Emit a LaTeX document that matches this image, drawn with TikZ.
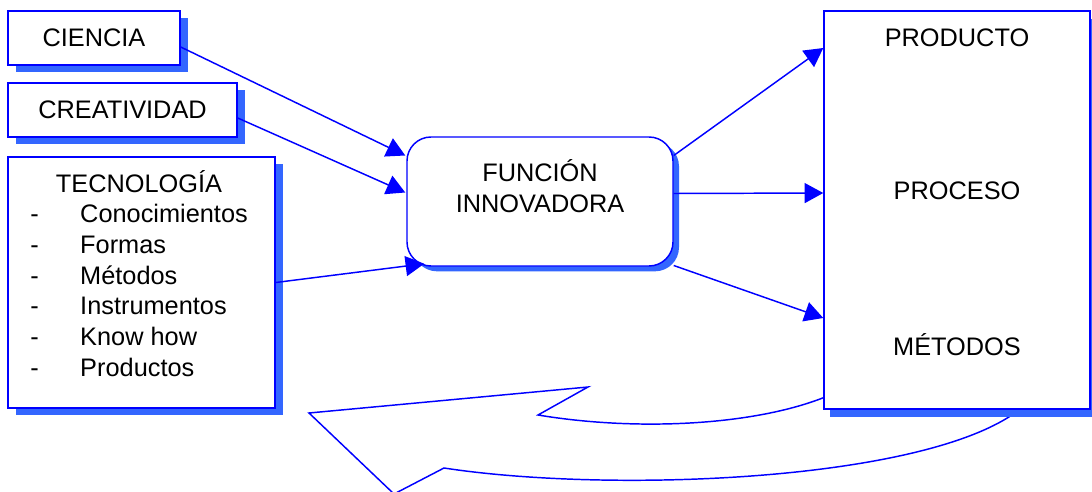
\documentclass[tikz,border=0pt]{standalone}
\usepackage{fontspec}
\setmainfont{Liberation Sans}
\usetikzlibrary{arrows.meta,shadows,calc}
\definecolor{boxblue}{RGB}{0,0,255}
\definecolor{shadeblue}{RGB}{51,102,255}

\begin{document}
\begin{tikzpicture}[x=0.75pt,y=-0.75pt,
 inbox/.style={draw=boxblue,line width=1.1pt,rectangle,fill=white,inner sep=0pt,
   drop shadow={shadow xshift=6pt,shadow yshift=-5.25pt,fill=shadeblue,opacity=1}},
 fnbox/.style={draw=boxblue,line width=1.1pt,rectangle,rounded corners=18pt,fill=white,
   minimum width=199.5pt,minimum height=96.75pt,
   drop shadow={shadow xshift=4.5pt,shadow yshift=-4pt,fill=shadeblue,opacity=1}},
 outbox/.style={draw=boxblue,line width=1.1pt,rectangle,fill=white,
   minimum width=199.5pt,minimum height=298.5pt,
   drop shadow={shadow xshift=4.5pt,shadow yshift=-6pt,fill=shadeblue,opacity=1}},
 flow/.style={-{Triangle[length=14pt,width=15pt]},boxblue,line width=1.1pt},
 every node/.style={font=\fontsize{19}{23}\selectfont},label/.style={inner sep=0pt,anchor=base}]
\useasboundingbox (0,0) rectangle (1092,492);
% return arrow
\draw[boxblue,line width=1.1pt,line join=miter]
  (830,395) .. controls (760,425) and (640,432) .. (538,415) -- (588,387) -- (309,413)
  -- (394,494) -- (444,468) .. controls (620,495) and (960,480) .. (1032,398);
\node[inbox,minimum width=129pt,minimum height=40.5pt] (ciencia) at (94,38) {CIENCIA};
\node[inbox,minimum width=171.75pt,minimum height=40.5pt] (creat) at (122.5,110) {CREATIVIDAD};
\node[inbox,minimum width=200.25pt,minimum height=188.25pt] (tec) at (141.5,282.5) {};
\node[inner sep=0pt,anchor=base west] (teclist) at (30,192) {%
  \begin{tabular}[t]{@{}p{37.5pt}@{}l@{}}
  \multicolumn{2}{@{}c@{}}{TECNOLOGÍA}\\
  - & Conocimientos\\
  - & Formas\\
  - & Métodos\\
  - & Instrumentos\\
  - & Know how\\
  - & Productos
  \end{tabular}};
\node[fnbox] (fn) at (540,201.5) {};
\node[align=center,inner sep=0pt] (fntext) at (540,186) {FUNCIÓN\\INNOVADORA};
\node[outbox] (out) at (957,210) {};
\node[label] (producto) at (957,47) {PRODUCTO};
\node[label] (proceso) at (957,199) {PROCESO};
\node[label] (metodos) at (957,355) {MÉTODOS};
\draw[flow] ($(ciencia.east)+(0,9)$) -- ($(fn.west)+(-1,-46)$);
\draw[flow] ($(creat.east)+(0,8)$) -- ($(fn.west)+(-1,-9)$);
\draw[flow] ($(tec.east)+(0,0)$) -- ($(fn.south west)+(18,-3)$);
\draw[flow] ($(fn.east)+(0,-46)$) -- ($(out.west)+(0,-162)$);
\draw[flow] ($(fn.east)+(0,-8)$) -- ($(out.west)+(0,-17)$);
\draw[flow] ($(fn.east)+(0,64)$) -- ($(out.west)+(0,108)$);
\end{tikzpicture}
\end{document}
